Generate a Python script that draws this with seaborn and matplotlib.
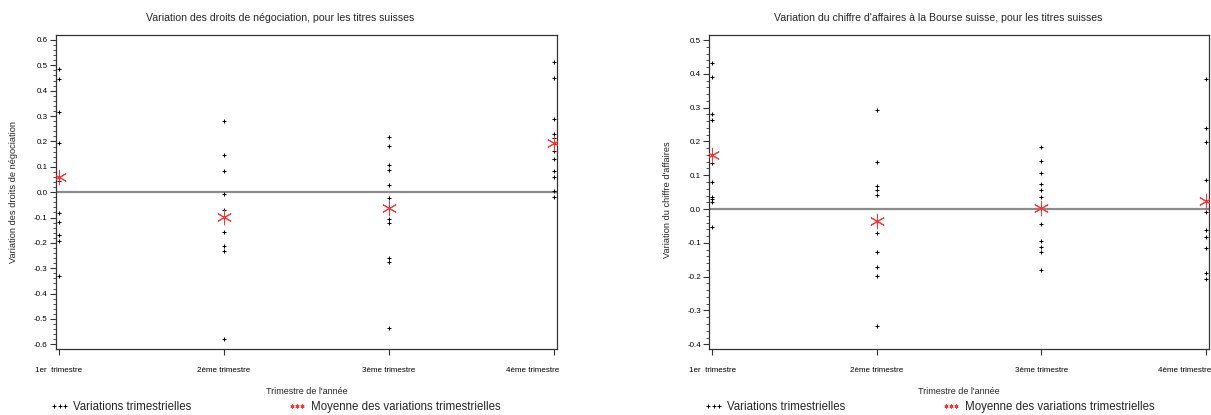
import numpy as np
import pandas as pd
import matplotlib
matplotlib.use("Agg")
import matplotlib.pyplot as plt
import matplotlib.transforms as mtransforms
from matplotlib.lines import Line2D
from matplotlib.ticker import MultipleLocator, FormatStrFormatter
import seaborn as sns

sns.set_style("white")
plt.rcParams['font.family'] = ['Liberation Sans', 'DejaVu Sans']

quarters = ["1er  trimestre", "2ème trimestre", "3ème trimestre", "4ème trimestre"]

# Panel 1: Variation des droits de négociation
droits_q1 = [0.486, 0.447, 0.318, 0.195, 0.045, -0.083, -0.116, -0.168, -0.192, -0.331]
droits_q2 = [0.281, 0.146, 0.083, -0.008, -0.071, -0.100, -0.156, -0.212, -0.231, -0.580]
droits_q3 = [0.216, 0.181, 0.109, 0.088, 0.029, -0.022, -0.106, -0.122, -0.259, -0.276, -0.536]
droits_q4 = [0.514, 0.451, 0.289, 0.230, 0.213, 0.164, 0.130, 0.083, 0.060, 0.004, -0.020]
droits_mean = [0.060, -0.097, -0.064, 0.193]

# Panel 2: Variation du chiffre d'affaires
ca_q1 = [0.431, 0.390, 0.280, 0.263, 0.135, 0.081, 0.035, 0.030, 0.022, -0.054]
ca_q2 = [0.293, 0.138, 0.068, 0.056, 0.043, -0.072, -0.126, -0.171, -0.197, -0.345]
ca_q3 = [0.184, 0.142, 0.108, 0.074, 0.056, 0.036, -0.044, -0.095, -0.113, -0.128, -0.180]
ca_q4 = [0.384, 0.239, 0.198, 0.086, -0.008, -0.062, -0.082, -0.114, -0.190, -0.207]
ca_mean = [0.160, -0.035, 0.002, 0.024]

titles = ["Variation des droits de négociation, pour les titres suisses",
          "Variation du chiffre d'affaires à la Bourse suisse, pour les titres suisses"]
ylabels = ["Variation des droits de négociation", "Variation du chiffre d'affaires"]
xlabel = "Trimestre de l'année"
legend_labels = ["Variations trimestrielles", "Moyenne des variations trimestrielles"]


def long_df(groups):
    rows = []
    for i, vals in enumerate(groups):
        for v in vals:
            rows.append({"q": i + 1, "v": v})
    return pd.DataFrame(rows)


fig = plt.figure(figsize=(12.11, 4.15), dpi=100)
ax1 = fig.add_axes([56 / 1211, 1 - 349 / 415, 501 / 1211, 314 / 415])
ax2 = fig.add_axes([709.3 / 1211, 1 - 349 / 415, 499.7 / 1211, 314 / 415])

panels = [
    (ax1, [droits_q1, droits_q2, droits_q3, droits_q4], droits_mean, (-0.6185, 0.6197), 280),
    (ax2, [ca_q1, ca_q2, ca_q3, ca_q4], ca_mean, (-0.4139, 0.5148), 938),
]

star = (6, 2, 0)

for i, (ax, groups, means, ylim, tx) in enumerate(panels):
    df = long_df(groups)
    mdf = pd.DataFrame({"q": [1, 2, 3, 4], "v": means})
    ax.axhline(0, color="#8c8c8c", lw=1.6, zorder=1)
    sns.scatterplot(data=df, x="q", y="v", ax=ax, marker="+", color="black",
                    s=7, linewidth=0.75, zorder=3, legend=False)
    sns.scatterplot(data=mdf, x="q", y="v", ax=ax, marker=star, color="#ff3030",
                    s=110, linewidth=0.7, zorder=4, legend=False)
    ax.set_xlim(1 - 0.018, 4 + 0.018)
    ax.set_ylim(*ylim)
    ax.set_xticks([1, 2, 3, 4])
    ax.set_xticklabels(quarters)
    ax.yaxis.set_major_locator(MultipleLocator(0.1))
    ax.yaxis.set_minor_locator(MultipleLocator(0.02))
    ax.yaxis.set_major_formatter(FormatStrFormatter("%.1f"))
    ax.tick_params(axis="both", which="major", direction="out", length=4, width=0.8,
                   labelsize=5.8, colors="#333333", labelcolor="black", pad=2,
                   left=True, bottom=True)
    ax.tick_params(axis="y", which="minor", direction="out", length=2, width=0.6,
                   colors="#333333", left=True)
    ax.tick_params(axis="x", pad=9)
    for sp in ax.spines.values():
        sp.set_visible(True)
        sp.set_color("#333333")
        sp.set_linewidth(0.9)
    ax.set_xlabel(xlabel, fontsize=6.5, labelpad=9)
    ax.set_ylabel("")
    lbls = ax.get_xticklabels()
    last = lbls[-1]
    last.set_horizontalalignment("right")
    last.set_transform(last.get_transform() + mtransforms.ScaledTranslation(5 / 100, 0, fig.dpi_scale_trans))
    fig.text(tx / 1211, 1 - 18 / 415, titles[i], ha="center", va="center", fontsize=7.6)

fig.text(14 / 1211, 1 - 192 / 415, ylabels[0], rotation=90, ha="center", va="center", fontsize=6.7)
fig.text(668 / 1211, 1 - 200 / 415, ylabels[1], rotation=90, ha="center", va="center", fontsize=6.7)

handles = [Line2D([], [], ls="none", marker="+", color="black", markersize=2.6, mew=0.7),
           Line2D([], [], ls="none", marker=star, color="#ff3030", markersize=2.8, mew=0.7)]

for x0 in (51, 705):
    fig.legend(handles, legend_labels, loc="center left",
               bbox_to_anchor=(x0 / 1211, 1 - 407 / 415), ncol=2, frameon=False,
               numpoints=3, fontsize=8.3, handlelength=1.5, handletextpad=0.45,
               columnspacing=8.4, borderaxespad=0, borderpad=0)

fig.savefig("out.png", dpi=100)
